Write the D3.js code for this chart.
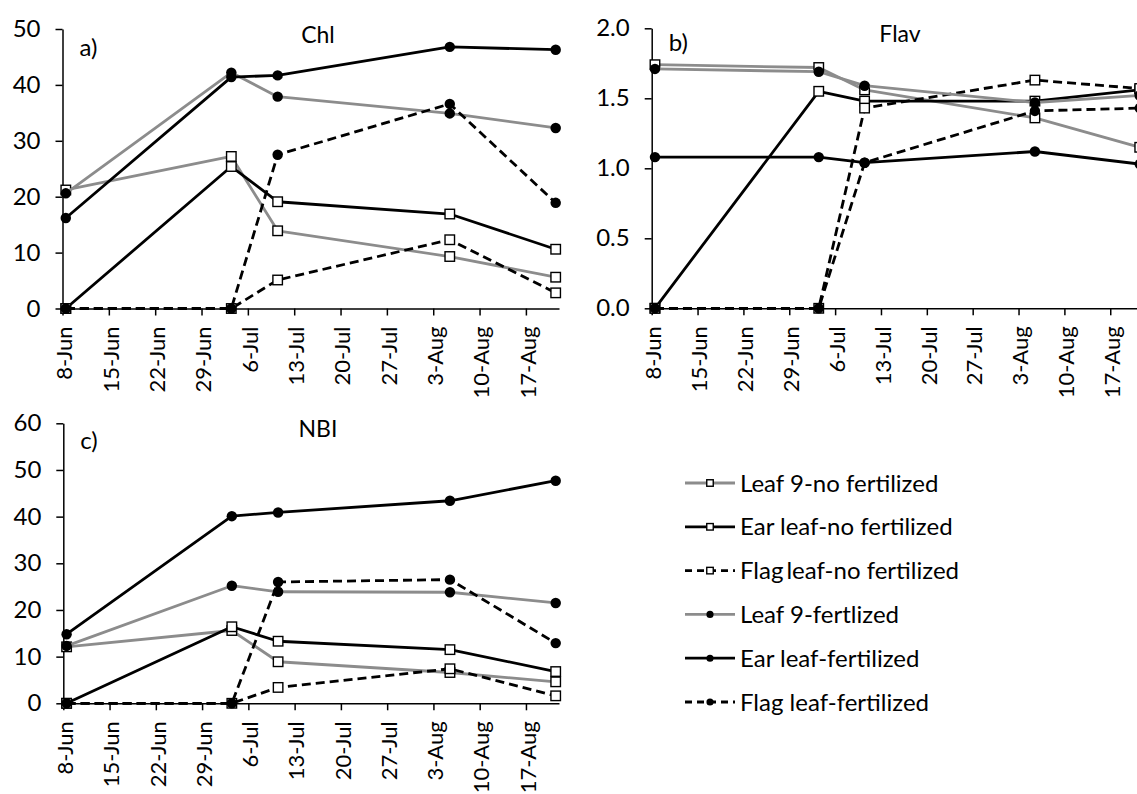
<!DOCTYPE html>
<html>
<head>
<meta charset="utf-8">
<script src="https://cdn.jsdelivr.net/npm/d3@7"></script>
<style>
  body { margin: 0; background: #fff; }
  svg { display: block; font-family: Lato, "Open Sans", sans-serif; }
</style>
</head>
<body>
<script>
// sampling dates (one reading per date)
const sampleDates = ["2019-06-08", "2019-07-03", "2019-07-10", "2019-08-05", "2019-08-21"];
const tickLabels = ["8-Jun", "15-Jun", "22-Jun", "29-Jun", "6-Jul", "13-Jul", "20-Jul", "27-Jul", "3-Aug", "10-Aug", "17-Aug"];

const seriesNames = [
    "Leaf 9-no fertilized",
    "Ear leaf-no fertilized",
    "Flag\u2009leaf-no fertilized",
    "Leaf 9-fertlized",
    "Ear leaf-fertilized",
    "Flag leaf-fertilized"
];

// values per series, same order as seriesNames
const chlValues = [
    [21.2, 27.2, 13.9, 9.3, 5.6],
    [0, 25.4, 19.1, 16.9, 10.6],
    [0, 0, 5.1, 12.3, 2.8],
    [20.6, 42.2, 37.9, 34.9, 32.3],
    [16.2, 41.4, 41.7, 46.8, 46.3],
    [0, 0, 27.5, 36.6, 18.9]
];
const flavValues = [
    [1.74, 1.72, 1.56, 1.36, 1.15],
    [0, 1.55, 1.48, 1.48, 1.56],
    [0, 0, 1.43, 1.63, 1.57],
    [1.71, 1.69, 1.59, 1.47, 1.52],
    [1.08, 1.08, 1.04, 1.12, 1.03],
    [0, 0, 1.04, 1.41, 1.43]
];
const nbiValues = [
    [12.1, 15.6, 8.9, 6.6, 4.6],
    [0, 16.4, 13.3, 11.5, 6.8],
    [0, 0, 3.4, 7.4, 1.6],
    [12.3, 25.2, 23.9, 23.8, 21.5],
    [14.8, 40.1, 40.9, 43.4, 47.7],
    [0, 0, 26.0, 26.5, 12.9]
];

// look of each series (same order)
const GRAY = "#8c8c8c";
const seriesStyle = [
    { color: GRAY, dash: null, marker: "square" },
    { color: "#000", dash: null, marker: "square" },
    { color: "#000", dash: "9,5", marker: "square" },
    { color: GRAY, dash: null, marker: "circle" },
    { color: "#000", dash: null, marker: "circle" },
    { color: "#000", dash: "9,5", marker: "circle" }
];

const parseDay = d3.utcParse("%Y-%m-%d");
const parseTick = d3.utcParse("%d-%b-%Y");
const dates = sampleDates.map(parseDay);
const tickDates = tickLabels.map((t) => parseTick(t + "-2019"));

const svg = d3.select("body").append("svg")
    .attr("width", 1137)
    .attr("height", 794);

function drawMarker(g, shape, cx, cy, size) {
    if (shape === "square") {
        g.append("rect")
            .attr("x", cx - size / 2)
            .attr("y", cy - size / 2)
            .attr("width", size)
            .attr("height", size)
            .attr("fill", "#fff")
            .attr("stroke", "#000")
            .attr("stroke-width", 1.4);
    } else {
        g.append("circle")
            .attr("cx", cx)
            .attr("cy", cy)
            .attr("r", size * 0.55)
            .attr("fill", "#000");
    }
}

function drawPanel(p) {
    const g = svg.append("g");

    // the axis runs from the first day to the day after the last reading
    const x = d3.scaleUtc()
        .domain([tickDates[0], d3.utcDay.offset(dates[dates.length - 1], 1)])
        .range([p.left, p.right]);
    const y = d3.scaleLinear()
        .domain([0, p.max])
        .range([p.bottom, p.top]);

    // y axis
    const yAxis = g.append("g")
        .attr("transform", `translate(${p.left},0)`)
        .call(d3.axisLeft(y).tickValues(p.ticks).tickFormat(p.fmt).tickSize(7).tickSizeOuter(0).tickPadding(15));
    yAxis.select(".domain").attr("stroke", "#000").attr("stroke-width", 1.5);
    yAxis.selectAll(".tick line").attr("stroke", "#000").attr("stroke-width", 1.5);
    yAxis.selectAll(".tick text")
        .attr("font-size", 24)
        .attr("font-family", "Lato, sans-serif")
        .attr("fill", "#000");

    // x axis
    const xAxis = g.append("g")
        .attr("transform", `translate(0,${p.bottom})`)
        .call(d3.axisBottom(x).tickValues(tickDates).tickFormat((d, i) => tickLabels[i]).tickSize(7).tickSizeOuter(0));
    xAxis.select(".domain").attr("stroke", "#000").attr("stroke-width", 1.5);
    xAxis.selectAll(".tick line").attr("stroke", "#000").attr("stroke-width", 1.5);
    xAxis.selectAll(".tick text")
        .attr("font-size", 22)
        .attr("font-family", "Lato, sans-serif")
        .attr("fill", "#000")
        .attr("text-anchor", "end")
        .attr("transform", "translate(0,18) rotate(-90)")
        .attr("x", 0)
        .attr("y", 0)
        .attr("dy", "0.42em");

    // readings sit in the middle of their day
    const px = (d) => x(d3.utcHour.offset(d, 12));

    p.values.forEach((vals, si) => {
        const st = seriesStyle[si];
        const pts = vals.map((v, i) => [px(dates[i]), y(v)]);
        const sg = g.append("g");
        sg.append("path")
            .attr("d", d3.line()(pts))
            .attr("fill", "none")
            .attr("stroke", st.color)
            .attr("stroke-width", 2.8)
            .attr("stroke-dasharray", st.dash)
            .attr("stroke-linejoin", "round");
        pts.forEach(([cx, cy]) => drawMarker(sg, st.marker, cx, cy, 9.5));
    });

    // panel letter and title
    g.append("text")
        .attr("x", p.left + 17)
        .attr("y", p.top + p.letterDy)
        .attr("font-size", 24)
        .attr("fill", "#000")
        .text(p.letter);
    g.append("text")
        .attr("x", p.titleX)
        .attr("y", p.top + 14)
        .attr("text-anchor", "middle")
        .attr("font-size", 23)
        .attr("fill", "#000")
        .text(p.title);
}

drawPanel({
    left: 62.5, right: 559, top: 29, bottom: 308.5,
    max: 50, ticks: [0, 10, 20, 30, 40, 50], fmt: d3.format("d"),
    values: chlValues, letter: "a)", letterDy: 27, title: "Chl", titleX: 318
});
drawPanel({
    left: 651.7, right: 1143, top: 28.3, bottom: 308.3,
    max: 2, ticks: [0, 0.5, 1, 1.5, 2], fmt: d3.format(".1f"),
    values: flavValues, letter: "b)", letterDy: 23, title: "Flav", titleX: 900
});
drawPanel({
    left: 63.3, right: 559, top: 423.3, bottom: 703.3,
    max: 60, ticks: [0, 10, 20, 30, 40, 50, 60], fmt: d3.format("d"),
    values: nbiValues, letter: "c)", letterDy: 26, title: "NBI", titleX: 318
});

// legend
const legend = svg.append("g");
const legendY = d3.scalePoint()
    .domain(seriesNames)
    .range([483, 702]);
seriesNames.forEach((name, i) => {
    const st = seriesStyle[i];
    const ly = legendY(name);
    const row = legend.append("g");
    row.append("line")
        .attr("x1", 685).attr("x2", 735)
        .attr("y1", ly).attr("y2", ly)
        .attr("stroke", st.color)
        .attr("stroke-width", 2.8)
        .attr("stroke-dasharray", st.dash ? "7,5" : null);
    drawMarker(row, st.marker, 710, ly, 6.5);
    row.append("text")
        .attr("x", 740)
        .attr("y", ly)
        .attr("dy", "0.36em")
        .attr("font-size", 24)
        .attr("fill", "#000")
        .text(name);
});
</script>
</body>
</html>
